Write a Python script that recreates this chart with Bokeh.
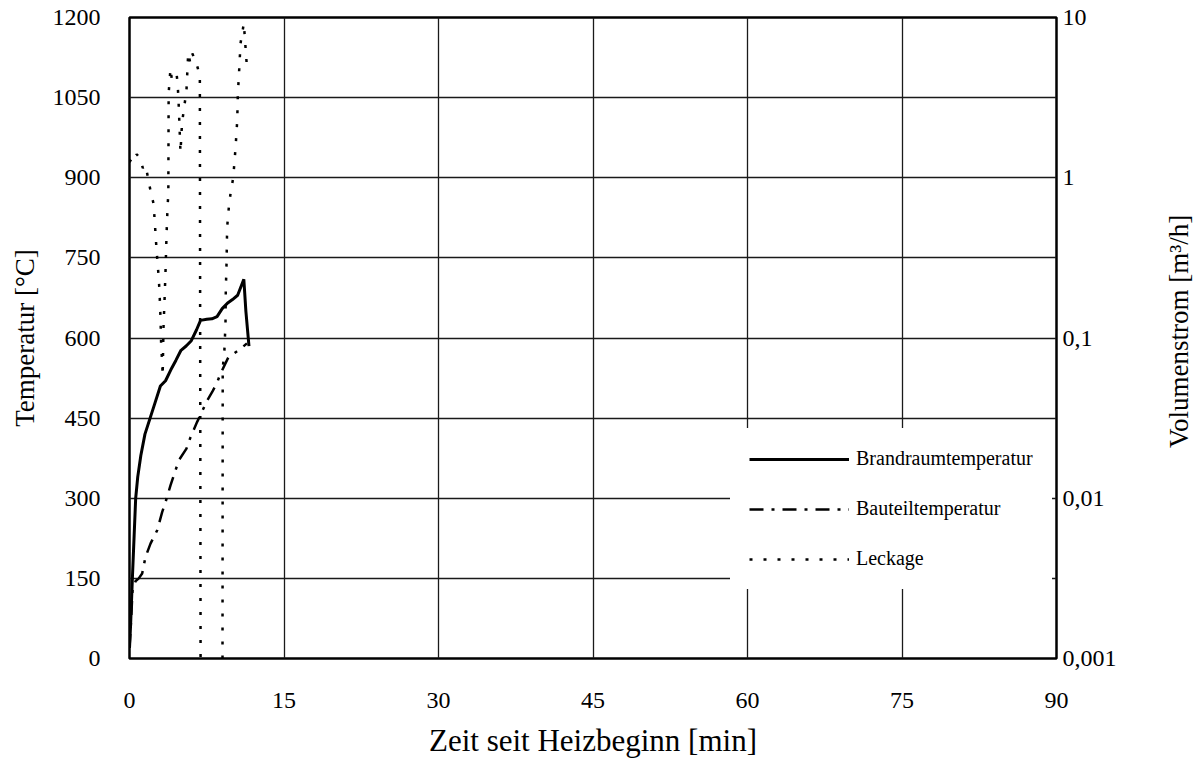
import numpy as np
from bokeh.plotting import figure
from bokeh.layouts import row
from bokeh.models import (Range1d, LogScale, LogAxis, FixedTicker, Legend,
                          LegendItem, CustomJSTickFormatter)
from bokeh.core.properties import value
from bokeh.embed import file_html
from bokeh.resources import INLINE

# ---- data ----
zeit_brand = [0, 0.1, 0.2, 0.3, 0.45, 0.6, 0.8, 1.1, 1.5, 2.0, 2.5, 3.0, 3.5, 4.0, 4.5,
              5.0, 5.5, 6.0, 6.5, 6.9, 7.5, 8.0, 8.5, 9.0, 9.5, 10.0, 10.5, 11.1, 11.3, 11.6]
temp_brand = [20, 60, 110, 160, 230, 300, 340, 380, 420, 450, 480, 510, 520, 540, 558,
              577, 585, 595, 615, 633, 635, 636, 640, 655, 665, 672, 680, 710, 650, 585]

zeit_bauteil = [0, 0.15, 0.3, 0.6, 0.9, 1.23, 1.55, 2.04, 2.69, 3.17, 3.5, 3.98, 4.79, 5.53,
                5.92, 6.57, 7.54, 8.03, 8.51, 8.83, 9.6, 10.2, 10.8, 11.4]
temp_bauteil = [20, 70, 130, 145, 150, 159, 190, 215, 240, 274, 293, 324, 371, 393,
                414, 443, 483, 499, 517, 533, 564, 572, 580, 590]

nan = float("nan")
zeit_leck = [0, 0.15, 0.3, 0.5, 0.7, 0.9, 1.1, 1.3, 1.55, 1.8, 2.04, 2.33, 2.43, 2.52, 2.62,
             2.72, 2.82, 2.91, 3.01, 3.08, 3.17, 3.22, 3.3, 3.4, 3.5, 3.6, 3.7, 3.77, 3.8,
             3.98, 4.1, 4.56, 4.67, 4.76, 4.95, 5.1, 5.53, 5.7, 5.9, 6.1, 6.5, 6.83, 6.9,
             nan, 9.03, 9.05, 9.2, 9.32, 9.35, 9.42, 9.48, 9.64, 9.81, 10.07, 10.3, 10.46,
             10.52, 10.61, 10.78, 11.1, 11.4]
leckage = [1.25, 1.3, 1.35, 1.3, 1.4, 1.35, 1.25, 1.15, 1.2, 1.0, 0.83, 0.69, 0.56, 0.455, 0.36,
           0.296, 0.245, 0.198, 0.134, 0.087, 0.072, 0.058, 0.116, 0.171, 0.264, 0.449, 0.67,
           0.79, 3.36, 4.8, 4.15, 4.5, 3.9, 3.03, 1.44, 2.2, 3.5, 6.0, 5.2, 5.96, 5.16, 4.35,
           0.001, nan, 0.001, 0.065, 0.08, 0.123, 0.198, 0.29, 0.49, 0.65, 0.8, 1.0, 1.55,
           2.28, 3.36, 4.2, 6.9, 9.2, 4.9]

x_ticks = [0, 15, 30, 45, 60, 75, 90]
y_ticks = [0, 150, 300, 450, 600, 750, 900, 1050, 1200]
log_ticks = [0.001, 0.01, 0.1, 1, 10]
right_title = ["Volumenstrom [m³/h]"]

FONT = "Liberation Serif"

p = figure(width=1153, height=768, x_range=Range1d(0, 90), y_range=Range1d(0, 1200),
           output_backend="svg", toolbar_location=None,
           min_border_left=129, min_border_right=97, min_border_top=17, min_border_bottom=110)
p.background_fill_color = "white"
p.border_fill_color = "white"
p.outline_line_color = "black"
p.outline_line_width = 2.5

p.extra_y_ranges = {"leck": Range1d(0.001, 10)}
p.extra_y_scales = {"leck": LogScale()}

# x axis
xa = p.xaxis[0]
xa.ticker = FixedTicker(ticks=x_ticks)
xa.axis_label = "Zeit seit Heizbeginn [min]"
xa.major_label_standoff = 34
xa.axis_label_standoff = 12

# left axis
ya = p.yaxis[0]
ya.ticker = FixedTicker(ticks=y_ticks)
ya.axis_label = "Temperatur [°C]"
ya.major_label_standoff = 29
ya.axis_label_standoff = 10

# right log axis (tick labels only)
ra = LogAxis(y_range_name="leck", ticker=FixedTicker(ticks=log_ticks),
             formatter=CustomJSTickFormatter(code="return tick.toString().replace('.', ',');"))
ra.major_label_standoff = 6
p.add_layout(ra, "right")

for ax in [xa, ya, ra]:
    ax.axis_line_color = None
    ax.major_tick_in = 0
    ax.major_tick_out = 0
    ax.minor_tick_line_color = None
    ax.major_label_text_font = FONT
    ax.major_label_text_font_size = "24px"
    ax.major_label_text_color = "black"
    ax.axis_label_text_font = FONT
    ax.axis_label_text_font_size = "27px"
    ax.axis_label_text_font_style = "normal"
    ax.axis_label_text_color = "black"
xa.axis_label_text_font_size = "31px"

for g in [p.xgrid[0], p.ygrid[0]]:
    g.grid_line_color = "#1a1a1a"
    g.grid_line_width = 1.3
p.ygrid[0].ticker = FixedTicker(ticks=y_ticks)
p.xgrid[0].ticker = FixedTicker(ticks=x_ticks)

r1 = p.line(zeit_brand, temp_brand, line_color="black", line_width=3)
r2 = p.line(zeit_bauteil, temp_bauteil, line_color="black", line_width=2.5,
            line_dash="14 8 3 8")
r3 = p.line(zeit_leck, leckage, y_range_name="leck", line_color="black", line_width=2.5,
            line_dash="3 11")

legend = Legend(items=[LegendItem(label="Brandraumtemperatur", renderers=[r1]),
                       LegendItem(label="Bauteiltemperatur", renderers=[r2]),
                       LegendItem(label="Leckage", renderers=[r3])],
                location=(601, 69))
legend.border_line_color = "white"
legend.border_line_width = 1
legend.background_fill_color = "white"
legend.background_fill_alpha = 1.0
legend.label_text_font = FONT
legend.label_text_font_size = "20px"
legend.label_text_color = "black"
legend.glyph_width = 100
legend.glyph_height = 20
legend.label_height = 20
legend.label_standoff = 7
legend.spacing = 27
legend.padding = 18
legend.margin = 0
p.add_layout(legend)

# narrow companion panel holding the right axis title (reads bottom-to-top)
t = figure(width=40, height=768, x_range=Range1d(0, 40), y_range=Range1d(0, 768),
           output_backend="svg", toolbar_location=None,
           x_axis_location=None, y_axis_location=None,
           min_border_left=0, min_border_right=0, min_border_top=0, min_border_bottom=0)
t.grid.visible = False
t.outline_line_color = None
t.background_fill_color = "white"
t.border_fill_color = "white"
t.text(x=[25], y=[392], text=right_title, angle=np.pi / 2,
       text_align="center", text_baseline="middle",
       text_font=value(FONT), text_font_size="27px", text_color="black")

layout = row(p, t, spacing=0)
open("out.html", "w").write(file_html(layout, INLINE))
